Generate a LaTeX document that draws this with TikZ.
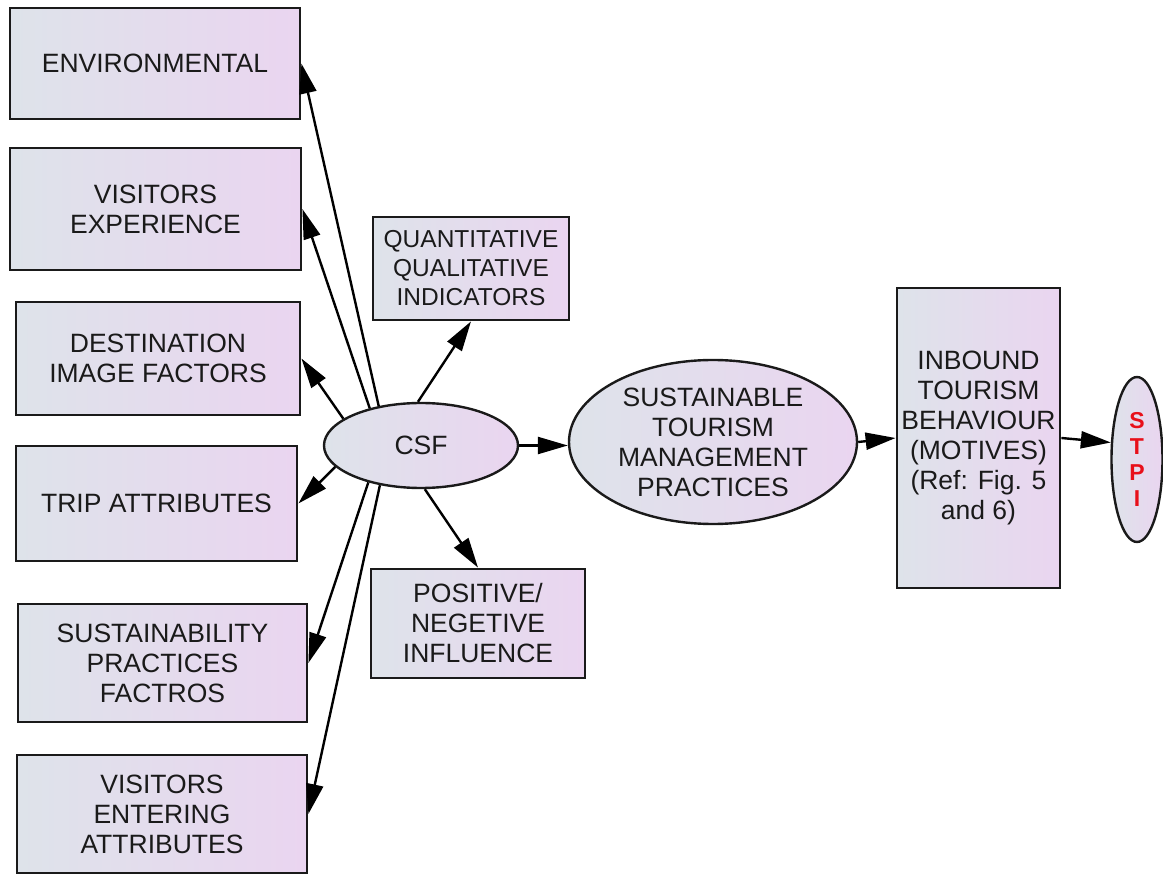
\documentclass[tikz,border=0pt]{standalone}
\usepackage{fontspec}
\setmainfont{Liberation Sans}
\usetikzlibrary{shapes.geometric,arrows.meta}
\definecolor{fillL}{HTML}{DEE3EA}
\definecolor{fillR}{HTML}{EAD5F0}
\definecolor{ink}{HTML}{1A1A1A}
\definecolor{stpired}{HTML}{E8101A}
\begin{document}
\begin{tikzpicture}[x=1pt,y=-1pt,
  base/.style={draw=ink, left color=fillL, right color=fillR, text=ink,
    align=center, inner sep=0pt, font=\fontsize{26.5}{30}\selectfont},
  box/.style={base, rectangle, line width=2.8pt},
  oval/.style={base, ellipse, line width=2.4pt},
  link/.style={line width=2.4pt, draw=black, -{Triangle[length=30pt,width=17pt]}}]

\useasboundingbox (0,0) rectangle (1163,874);

% factor boxes on the left
\node[box, minimum width=290pt, minimum height=111pt] (env)   at (155,63.5)  {ENVIRONMENTAL};
\node[box, minimum width=291pt, minimum height=122pt] (exp)   at (155.5,209) {VISITORS\\EXPERIENCE};
\node[box, minimum width=284pt, minimum height=113pt] (dest)  at (158,358.5) {DESTINATION\\IMAGE FACTORS};
\node[box, minimum width=281pt, minimum height=115pt] (trip)  at (156.5,503.5) {TRIP ATTRIBUTES};
\node[box, minimum width=289pt, minimum height=118pt] (sust)  at (162.5,663) {SUSTAINABILITY\\PRACTICES\\FACTROS};
\node[box, minimum width=290pt, minimum height=118pt] (enter) at (162,814)   {VISITORS\\ENTERING\\ATTRIBUTES};

% indicator boxes
\node[box, minimum width=196pt, minimum height=103pt, font=\fontsize{24.5}{29}\selectfont] (quant) at (471,268.5)
  {QUANTITATIVE\\QUALITATIVE\\INDICATORS};
\node[box, minimum width=214pt, minimum height=109pt] (pos) at (478,623.5)
  {POSITIVE/\\NEGETIVE\\INFLUENCE};

% central chain
\node[oval, minimum width=194pt, minimum height=85pt] (csf) at (421,445.5) {CSF};
\node[oval, minimum width=288pt, minimum height=164pt] (stm) at (713,442)
  {SUSTAINABLE\\TOURISM\\MANAGEMENT\\PRACTICES};
\node[box, minimum width=163pt, minimum height=300pt] (inb) at (978.5,438)
  {INBOUND\\TOURISM\\BEHAVIOUR\\(MOTIVES)\\(Ref: Fig. 5\\and 6)};
\node[oval, minimum width=51pt, minimum height=165pt, text=stpired,
  font=\fontsize{23}{26}\selectfont\bfseries] (stpi) at (1137,459.5) {S\\T\\P\\I};

% connectors
\draw[link] (csf.137) -- (env.east);
\draw[link] (csf.144) -- (exp.east);
\draw[link] (csf.161) -- (dest.east);
\draw[link] (csf.194) -- (trip.east);
\draw[link] (csf.215) -- (sust.east);
\draw[link] (csf.224) -- (enter.east);
\draw[link] (csf.94)  -- (quant.south);
\draw[link] (csf.275) -- (pos.north);
\draw[link] (csf.east) -- (csf.east -| stm.west);
\draw[link] (stm.east) -- (inb.west);
\draw[link] (inb.east) -- (stpi.147);
\end{tikzpicture}
\end{document}
